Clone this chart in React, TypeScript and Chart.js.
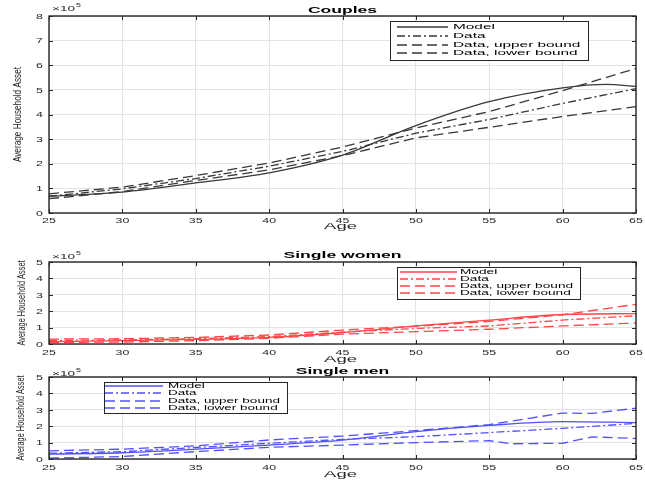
import React, { useEffect, useRef } from 'react';
import { Chart, registerables } from 'chart.js';
Chart.register(...registerables);

// ---------- data (values in units of 10^5) ----------
const X_TICKS = [25, 30, 35, 40, 45, 50, 55, 60, 65];
const Y_TICKS_COUPLES = [0, 1, 2, 3, 4, 5, 6, 7, 8];
const Y_TICKS_SINGLE = [0, 1, 2, 3, 4, 5];
const LEGEND_LABELS = ['Model', 'Data', 'Data, upper bound', 'Data, lower bound'];
const TITLES = ['Couples', 'Single women', 'Single men'];
const X_LABEL = 'Age';
const Y_LABEL = 'Average Household Asset';

const AGES = [25, 30, 35, 40, 45, 50, 55, 60, 65];

const COUPLES_MODEL_AGES = [25, 30, 35, 40, 45, 50, 55, 60, 63, 65];
const COUPLES_MODEL = [0.68, 0.85, 1.22, 1.63, 2.35, 3.55, 4.52, 5.08, 5.22, 5.14];
const COUPLES_DATA = [0.68, 0.98, 1.4, 1.9, 2.5, 3.24, 3.8, 4.45, 5.05];
const COUPLES_UPPER = [0.78, 1.05, 1.52, 2.03, 2.68, 3.45, 4.12, 4.97, 5.87];
const COUPLES_LOWER = [0.58, 0.87, 1.32, 1.75, 2.33, 3.05, 3.48, 3.92, 4.32];

const WOMEN_MODEL = [0.15, 0.2, 0.28, 0.4, 0.7, 1.1, 1.46, 1.8, 1.85];
const WOMEN_DATA = [0.22, 0.25, 0.32, 0.45, 0.72, 0.95, 1.1, 1.46, 1.72];
const WOMEN_UPPER = [0.3, 0.32, 0.4, 0.55, 0.85, 1.08, 1.38, 1.78, 2.42];
const WOMEN_LOWER = [0.1, 0.12, 0.2, 0.35, 0.6, 0.75, 0.9, 1.1, 1.28];

const MEN_MODEL = [0.3, 0.38, 0.6, 0.85, 1.15, 1.67, 2.05, 2.28, 2.22];
const MEN_DATA = [0.35, 0.45, 0.7, 0.96, 1.2, 1.36, 1.61, 1.87, 2.17];
const MEN_UPPER_AGES = [25, 30, 35, 40, 45, 50, 55, 60, 62, 65];
const MEN_UPPER = [0.5, 0.6, 0.8, 1.16, 1.4, 1.73, 2.1, 2.8, 2.78, 3.1];
const MEN_LOWER_AGES = [25, 30, 35, 40, 45, 50, 55, 56.5, 60, 62, 65];
const MEN_LOWER = [0.05, 0.15, 0.45, 0.71, 0.85, 1.0, 1.12, 0.93, 0.96, 1.35, 1.25];

// ---------- styles / layout ----------
const FONT = '"Liberation Sans", Arial, Helvetica, sans-serif';
const AXIS_COLOR = '#262626';
const DASH_DOT = [8, 3, 2, 3];
const DASHED = [10, 5];
const STYLES = [[], DASH_DOT, DASHED, DASHED];

type Series = { ages: number[]; values: number[] };

const PANELS = [
  {
    title: TITLES[0], color: 'rgb(56,56,56)', yMax: 8, yTicks: Y_TICKS_COUPLES,
    series: [
      { ages: COUPLES_MODEL_AGES, values: COUPLES_MODEL },
      { ages: AGES, values: COUPLES_DATA },
      { ages: AGES, values: COUPLES_UPPER },
      { ages: AGES, values: COUPLES_LOWER },
    ] as Series[],
    pad: { top: 16, bottom: 267 },
    titleY: 13, expY: 11, tickY: 223, ageY: 229, yTitle: { x: 17.5, sx: 0.75 },
    legend: { x0: 390, y0: 21, x1: 588, y1: 60, rows: [27, 36, 45, 53], lx0: 397, lx1: 448, tx: 453, size: 8, sx: 1.92 },
  },
  {
    title: TITLES[1], color: 'rgb(255,70,70)', yMax: 5, yTicks: Y_TICKS_SINGLE,
    series: [
      { ages: AGES, values: WOMEN_MODEL },
      { ages: AGES, values: WOMEN_DATA },
      { ages: AGES, values: WOMEN_UPPER },
      { ages: AGES, values: WOMEN_LOWER },
    ] as Series[],
    pad: { top: 262, bottom: 136 },
    titleY: 258, expY: 259, tickY: 355, ageY: 362, yTitle: { x: 21.5, sx: 0.67 },
    legend: { x0: 397, y0: 267, x1: 580, y1: 299, rows: [272, 279, 286, 293], lx0: 400, lx1: 457, tx: 460, size: 7, sx: 1.95 },
  },
  {
    title: TITLES[2], color: 'rgb(80,80,255)', yMax: 5, yTicks: Y_TICKS_SINGLE,
    series: [
      { ages: AGES, values: MEN_MODEL },
      { ages: AGES, values: MEN_DATA },
      { ages: MEN_UPPER_AGES, values: MEN_UPPER },
      { ages: MEN_LOWER_AGES, values: MEN_LOWER },
    ] as Series[],
    pad: { top: 377, bottom: 21 },
    titleY: 374, expY: 376, tickY: 470, ageY: 477, yTitle: { x: 20.5, sx: 0.67 },
    legend: { x0: 104, y0: 382, x1: 287, y1: 413, rows: [386, 393, 401, 408], lx0: 105, lx1: 163, tx: 168, size: 7, sx: 1.93 },
  },
];

function stretchText(ctx: CanvasRenderingContext2D, s: string, x: number, y: number, o: any) {
  ctx.save();
  ctx.translate(x, y);
  if (o.rot) ctx.rotate(-Math.PI / 2);
  ctx.scale(o.sx ?? 1, 1);
  ctx.font = `${o.bold ? 'bold ' : ''}${o.size}px ${FONT}`;
  ctx.fillStyle = o.color || AXIS_COLOR;
  ctx.textAlign = o.align || 'center';
  ctx.textBaseline = o.baseline || 'alphabetic';
  ctx.fillText(s, 0, 0);
  ctx.restore();
}

function makeDecorations(p: any) {
  return {
    id: 'matlabDecor',
    afterDraw(chart: any) {
      const ctx: CanvasRenderingContext2D = chart.ctx;
      const { left, right, top, bottom } = chart.chartArea;
      const xs = chart.scales.x;
      const ys = chart.scales.y;
      ctx.save();
      ctx.setLineDash([]);
      // ticks inward
      ctx.strokeStyle = AXIS_COLOR;
      ctx.lineWidth = 1;
      const tl = 4;
      X_TICKS.forEach((t) => {
        const px = Math.round(xs.getPixelForValue(t)) + 0.5;
        ctx.beginPath();
        ctx.moveTo(px, bottom); ctx.lineTo(px, bottom - tl);
        ctx.moveTo(px, top); ctx.lineTo(px, top + tl);
        ctx.stroke();
      });
      p.yTicks.forEach((t: number) => {
        const py = Math.round(ys.getPixelForValue(t)) + 0.5;
        ctx.beginPath();
        ctx.moveTo(left, py); ctx.lineTo(left + tl, py);
        ctx.moveTo(right, py); ctx.lineTo(right - tl, py);
        ctx.stroke();
      });
      // box
      ctx.lineWidth = 1.4;
      ctx.strokeRect(left, top, right - left, bottom - top);
      // tick labels
      X_TICKS.forEach((t) => {
        stretchText(ctx, String(t), xs.getPixelForValue(t), p.tickY, { size: 8, sx: 1.55 });
      });
      p.yTicks.forEach((t: number) => {
        stretchText(ctx, String(t), left - 6, ys.getPixelForValue(t) + 0.5, { size: 8, sx: 1.55, align: 'right', baseline: 'middle' });
      });
      // exponent
      stretchText(ctx, '\u00d710', left + 3, p.expY, { size: 8, sx: 1.7, align: 'left' });
      stretchText(ctx, '5', left + 27, p.expY - 4, { size: 6, sx: 1.5, align: 'left' });
      // title
      stretchText(ctx, p.title, (left + right) / 2, p.titleY, { size: 9, sx: 1.95, bold: true, color: '#000' });
      // x label
      stretchText(ctx, X_LABEL, (left + right) / 2 - 2, p.ageY, { size: 9, sx: 2.05 });
      // y label
      stretchText(ctx, Y_LABEL, p.yTitle.x, (top + bottom) / 2, { size: 11, sx: p.yTitle.sx, rot: true, baseline: 'middle' });
      // legend
      const L = p.legend;
      ctx.fillStyle = '#fff';
      ctx.fillRect(L.x0, L.y0, L.x1 - L.x0, L.y1 - L.y0);
      ctx.strokeStyle = AXIS_COLOR;
      ctx.lineWidth = 1;
      ctx.strokeRect(L.x0 + 0.5, L.y0 + 0.5, L.x1 - L.x0, L.y1 - L.y0);
      LEGEND_LABELS.forEach((lab, i) => {
        const y = L.rows[i];
        ctx.save();
        ctx.strokeStyle = p.color;
        ctx.lineWidth = 1.5;
        ctx.setLineDash(STYLES[i]);
        ctx.beginPath();
        ctx.moveTo(L.lx0, y); ctx.lineTo(L.lx1, y);
        ctx.stroke();
        ctx.restore();
        stretchText(ctx, lab, L.tx, L.rows[i], { size: L.size, sx: L.sx, align: 'left', baseline: 'middle', color: '#000' });
      });
      ctx.restore();
    },
  };
}

function Panel({ p }: { p: any }) {
  const ref = useRef<HTMLCanvasElement>(null);
  useEffect(() => {
    if (!ref.current) return;
    const datasets = p.series.map((s: Series, i: number) => ({
      label: LEGEND_LABELS[i],
      data: s.ages.map((a, k) => ({ x: a, y: s.values[k] })),
      borderColor: p.color,
      borderWidth: 1.3,
      borderDash: STYLES[i],
      pointRadius: 0,
      fill: false,
      cubicInterpolationMode: i === 0 ? 'monotone' : 'default',
      tension: 0,
    }));
    const fitZero = (scale: any) => {
      if (scale.isHorizontal()) scale.height = 0; else scale.width = 0;
    };
    const chart = new Chart(ref.current, {
      type: 'line',
      data: { datasets },
      options: {
        responsive: false,
        animation: false,
        events: [],
        layout: { padding: { left: 49, right: 9, top: p.pad.top, bottom: p.pad.bottom } },
        scales: {
          x: {
            type: 'linear', min: 25, max: 65,
            afterFit: fitZero,
            afterBuildTicks: (sc: any) => { sc.ticks = X_TICKS.map((v) => ({ value: v })); },
            ticks: { display: false },
            grid: { color: '#e3e3e3', drawTicks: false, lineWidth: 1 },
            border: { display: false },
          },
          y: {
            type: 'linear', min: 0, max: p.yMax,
            afterFit: fitZero,
            afterBuildTicks: (sc: any) => { sc.ticks = p.yTicks.map((v: number) => ({ value: v })); },
            ticks: { display: false },
            grid: { color: '#e3e3e3', drawTicks: false, lineWidth: 1 },
            border: { display: false },
          },
        },
        plugins: { legend: { display: false }, tooltip: { enabled: false }, title: { display: false } },
      },
      plugins: [makeDecorations(p)],
    } as any);
    return () => chart.destroy();
  }, []);
  return (
    <canvas
      ref={ref}
      width={645}
      height={480}
      style={{ position: 'absolute', left: 0, top: 0, width: 645, height: 480 }}
    />
  );
}

export default function App() {
  return (
    <div style={{ position: 'fixed', left: 0, top: 0, width: 645, height: 480, background: '#fff', overflow: 'hidden' }}>
      {PANELS.map((p, i) => (
        <Panel key={i} p={p} />
      ))}
    </div>
  );
}
